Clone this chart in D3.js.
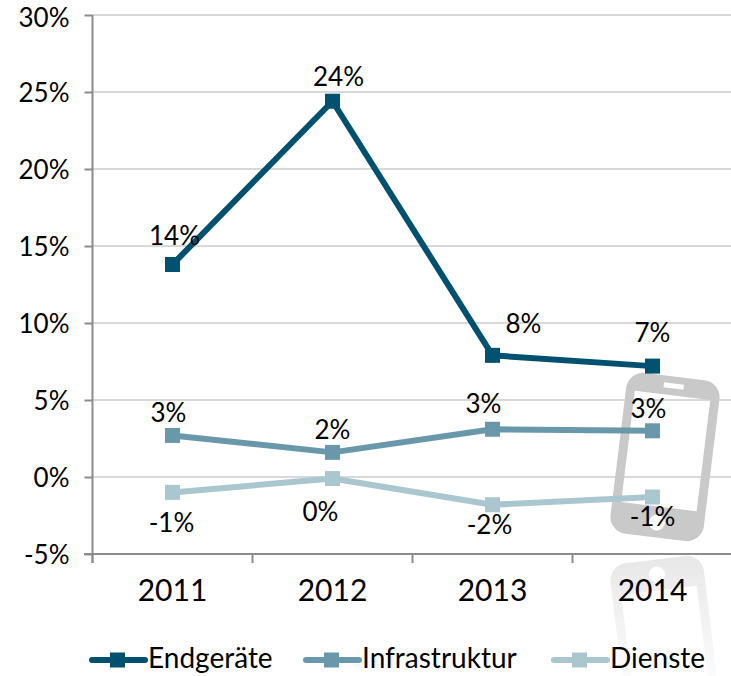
<!DOCTYPE html>
<html>
<head>
<meta charset="utf-8">
<script src="https://cdn.jsdelivr.net/npm/d3@7"></script>
<style>
    html, body { margin: 0; padding: 0; background: #fff; }
    svg { display: block; }
    text { font-family: Lato, "Noto Sans", sans-serif; fill: #000; }
</style>
</head>
<body>
<svg id="chart" width="731" height="676"></svg>
<script>
const years = ['2011', '2012', '2013', '2014'];
const yTicks = [-5, 0, 5, 10, 15, 20, 25, 30];
const endgeraete = [13.8, 24.4, 7.9, 7.2];
const infrastruktur = [2.7, 1.6, 3.1, 3.0];
const dienste = [-1.0, -0.1, -1.8, -1.3];
const endgeraeteLabels = ['14%', '24%', '8%', '7%'];
const infrastrukturLabels = ['3%', '2%', '3%', '3%'];
const diensteLabels = ['-1%', '0%', '-2%', '-1%'];
const seriesNames = ['Endgeräte', 'Infrastruktur', 'Dienste'];

const colors = ['#00506f', '#6a98ab', '#aac7d0'];

let svg = d3.select('#chart');

let x = d3.scaleBand().domain(years).range([92.5, 732.5]);
let y = d3.scaleLinear().domain([-5, 30]).range([554, 15]);

// grid
svg.append('g').selectAll('line')
    .data(yTicks.filter(d => d > -5))
    .join('line')
    .attr('x1', 92.5).attr('x2', 731)
    .attr('y1', d => y(d)).attr('y2', d => y(d))
    .attr('stroke', '#d9d9d9').attr('stroke-width', 2);

// phone picture + its reflection
const phonePath = 'M-30,-81H30A17,17 0 0 1 47,-64V64A17,17 0 0 1 30,81H-30A17,17 0 0 1 -47,64V-64A17,17 0 0 1 -30,-81Z'
    + 'M-38,-62V50H38V-62Z'
    + 'M-10,-74V-69H10V-74Z'
    + 'M-8,66A8,8 0 1 0 8,66A8,8 0 1 0 -8,66Z';

let defs = svg.append('defs');
let grad = defs.append('linearGradient').attr('id', 'fade')
    .attr('gradientUnits', 'userSpaceOnUse')
    .attr('x1', 0).attr('x2', 0).attr('y1', 550).attr('y2', 700);
grad.append('stop').attr('offset', 0).attr('stop-color', '#fff').attr('stop-opacity', 0.45);
grad.append('stop').attr('offset', 1).attr('stop-color', '#fff').attr('stop-opacity', 0);
let mask = defs.append('mask').attr('id', 'fadeMask').attr('maskUnits', 'userSpaceOnUse')
    .attr('x', 590).attr('y', 550).attr('width', 141).attr('height', 126);
mask.append('rect').attr('x', 590).attr('y', 550).attr('width', 141).attr('height', 126).attr('fill', 'url(#fade)');

svg.append('path')
    .attr('d', phonePath)
    .attr('fill', '#c9c9c9').attr('fill-rule', 'evenodd')
    .attr('transform', 'translate(665,457) rotate(7)');

svg.append('g').attr('mask', 'url(#fadeMask)')
    .append('path')
    .attr('d', phonePath)
    .attr('fill', '#c9c9c9').attr('fill-rule', 'evenodd')
    .attr('transform', 'translate(665,640) scale(1,-1) rotate(7)');

// axes
let yAxis = d3.axisLeft(y).tickValues(yTicks).tickSize(8).tickPadding(15).tickFormat(d => d + '%');
let gy = svg.append('g').attr('transform', 'translate(92.5,0)').call(yAxis);
gy.select('.domain').attr('stroke', '#8c8c8c').attr('stroke-width', 2).attr('d', 'M0,15V563');
gy.selectAll('.tick line').attr('stroke', '#8c8c8c').attr('stroke-width', 2);
gy.selectAll('.tick text')
    .attr('font-size', 26)
    .attr('dy', d => d === 30 ? '0.44em' : '0.35em')  // top label would clip at the window edge
    .style('font-family', 'Lato, "Noto Sans", sans-serif');

let xAxis = d3.axisBottom(x).tickSize(0).tickPadding(26);
let gx = svg.append('g').attr('transform', 'translate(0,554)').call(xAxis);
gx.select('.domain').attr('stroke', '#8c8c8c').attr('stroke-width', 2).attr('d', 'M84,0H731');
gx.selectAll('.tick text').attr('font-size', 30).style('font-family', 'Lato, "Noto Sans", sans-serif');
gx.selectAll('line.edge')
    .data(years)
    .join('line')
    .attr('class', 'edge')
    .attr('x1', d => x(d)).attr('x2', d => x(d))
    .attr('y1', 0).attr('y2', 9)
    .attr('stroke', '#8c8c8c').attr('stroke-width', 2);

// series
const allSeries = [endgeraete, infrastruktur, dienste];
const allLabels = [endgeraeteLabels, infrastrukturLabels, diensteLabels];
// label offset from the point, hand placed like in the original
const labelShift = [
    [[2, -19], [6, -15], [31, -22], [0, -24]],
    [[-4, -13], [0, -13], [-9, -16], [-4, -13]],
    [[-1, 40], [-12, 42], [-3, 29], [0, 29]]
];

let line = d3.line()
    .x((d, i) => x(years[i]) + x.bandwidth() / 2)
    .y(d => y(d));

allSeries.slice().reverse().forEach((values, r) => {
    let s = allSeries.length - 1 - r;
    let g = svg.append('g');
    g.append('path')
        .attr('d', line(values))
        .attr('fill', 'none')
        .attr('stroke', colors[s])
        .attr('stroke-width', 6)
        .attr('stroke-linejoin', 'round')
        .attr('stroke-linecap', 'round');
    g.selectAll('rect')
        .data(values)
        .join('rect')
        .attr('x', (d, i) => x(years[i]) + x.bandwidth() / 2 - 7.5)
        .attr('y', d => y(d) - 7.5)
        .attr('width', 15).attr('height', 15)
        .attr('fill', colors[s]);
});

allLabels.forEach((labels, s) => {
    svg.append('g').selectAll('text')
        .data(labels)
        .join('text')
        .attr('x', (d, i) => x(years[i]) + x.bandwidth() / 2 + labelShift[s][i][0])
        .attr('y', (d, i) => y(allSeries[s][i]) + labelShift[s][i][1])
        .attr('text-anchor', 'middle')
        .attr('font-size', 26)
        .text(d => d);
});

// legend
const legendX = [90, 304, 552];
let legend = svg.append('g');
seriesNames.forEach((name, i) => {
    let lx = legendX[i];
    legend.append('line')
        .attr('x1', lx + 2).attr('x2', lx + 55)
        .attr('y1', 660).attr('y2', 660)
        .attr('stroke', colors[i]).attr('stroke-width', 6)
        .attr('stroke-linecap', 'round');
    legend.append('rect')
        .attr('x', lx + 20).attr('y', 652.5)
        .attr('width', 15).attr('height', 15)
        .attr('fill', colors[i]);
    legend.append('text')
        .attr('x', lx + 58).attr('y', 668)
        .attr('font-size', 28)
        .text(name);
});
</script>
</body>
</html>
